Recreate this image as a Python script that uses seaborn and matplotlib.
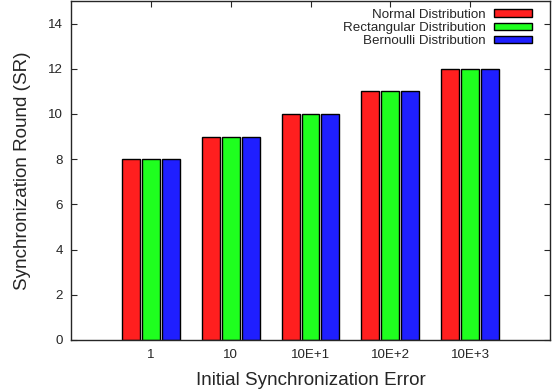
import matplotlib
matplotlib.use("Agg")
import matplotlib.pyplot as plt
import seaborn as sns
import pandas as pd

categories = ["1", "10", "10E+1", "10E+2", "10E+3"]
normal = [8, 9, 10, 11, 12]
rectangular = [8, 9, 10, 11, 12]
bernoulli = [8, 9, 10, 11, 12]
series_names = ["Normal Distribution", "Rectangular Distribution", "Bernoulli Distribution"]
colors = ["#ff1f1f", "#1fff1f", "#1f1fff"]

rows = []
for name, vals in zip(series_names, [normal, rectangular, bernoulli]):
    for c, v in zip(categories, vals):
        rows.append({"cat": c, "series": name, "value": v})
df = pd.DataFrame(rows)

sns.set_style("ticks")
plt.rcParams["font.family"] = ["Liberation Sans", "DejaVu Sans"]

fig = plt.figure(figsize=(5.54, 3.92), dpi=100)
ax = fig.add_axes([71/554, 52/392, (550-71)/554, (391-52)/392])

sns.barplot(data=df, x="cat", y="value", hue="series", order=categories,
            hue_order=series_names, palette=colors, width=0.75, gap=0.1,
            edgecolor="black", linewidth=1.0, saturation=1, ax=ax, errorbar=None)

ax.set_xlim(-1, 5)
ax.set_ylim(0, 15)
ax.set_yticks(range(0, 15, 2))
ax.set_xlabel("Initial Synchronization Error", fontsize=13.6)
ax.set_ylabel("Synchronization Round (SR)", fontsize=13.6)
ax.xaxis.set_label_coords(0.5, -0.094)
ax.yaxis.set_label_coords(-0.083, 0.5)
ax.tick_params(direction="in", top=True, right=True, labelsize=9.6, length=4, width=0.8)
ax.tick_params(axis="x", pad=6.5)
ax.tick_params(axis="y", pad=5.8)
for s in ax.spines.values():
    s.set_visible(True)
    s.set_linewidth(1.0)

leg = ax.legend(loc="upper right", bbox_to_anchor=((535 - 71) / 479, 0.985),
                markerfirst=False, frameon=False, fontsize=9.6,
                handlelength=2.9, handleheight=0.5, labelspacing=0.1,
                borderaxespad=0.0, borderpad=0.2, handletextpad=0.6)
for h in leg.legend_handles:
    h.set_edgecolor("black")
    h.set_linewidth(1.0)
for t in leg.get_texts():
    t.set_ha("right")

fig.savefig("out.png", dpi=100)
